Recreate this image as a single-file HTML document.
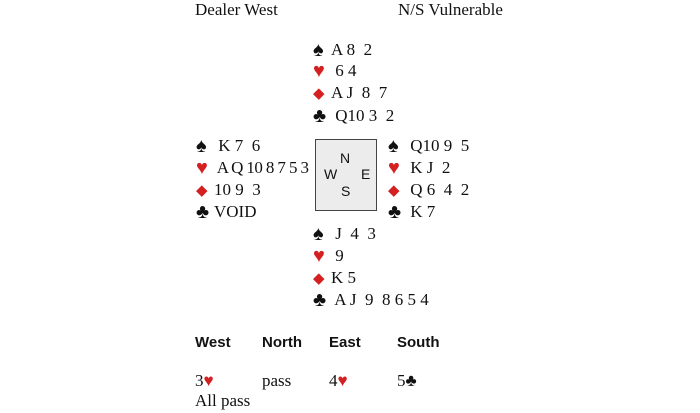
<!DOCTYPE html>
<html><head><style>
body{margin:0;width:700px;height:413px;background:#fff;position:relative;font-family:"Liberation Serif",serif;font-size:17px;color:#111;overflow:hidden}
.t{position:absolute;white-space:pre;line-height:20px}
.r{color:#d42020}
.s{display:inline-block;width:18px;font-size:20px;line-height:18px;vertical-align:-1px}
.d{font-size:15px;vertical-align:0}
.h{font-family:"Liberation Sans",sans-serif;font-weight:bold;font-size:15px}
.box{position:absolute;z-index:2;left:315px;top:139px;width:60px;height:70px;border:1.5px solid #444;background:#ececec;font-family:"Liberation Sans",sans-serif;font-size:14px}
.box span{position:absolute}
</style></head><body>
<div class="t" style="left:195px;top:0px">Dealer West</div>
<div class="t" style="left:398px;top:0px">N/S Vulnerable</div>

<div class="t" style="left:313px;top:40px"><span class="s">♠</span>A 8  2</div>
<div class="t" style="left:313px;top:61px"><span class="s r">♥</span> 6 4</div>
<div class="t" style="left:313px;top:83px"><span class="s d r">◆</span>A J  8  7</div>
<div class="t" style="left:313px;top:106px"><span class="s">♣</span> Q10 3  2</div>

<div class="t" style="left:196px;top:136px"><span class="s">♠</span> K 7  6</div>
<div class="t" style="left:196px;top:158px;letter-spacing:-0.6px"><span class="s r">♥</span> A Q 10 8 7 5 3</div>
<div class="t" style="left:196px;top:180px"><span class="s d r">◆</span>10 9  3</div>
<div class="t" style="left:196px;top:202px"><span class="s">♣</span>VOID</div>

<div class="box"><span style="left:24px;top:10px">N</span><span style="left:8px;top:26px">W</span><span style="left:45px;top:26px">E</span><span style="left:25px;top:43px">S</span></div>

<div class="t" style="left:388px;top:136px"><span class="s">♠</span> Q10 9  5</div>
<div class="t" style="left:388px;top:158px"><span class="s r">♥</span> K J  2</div>
<div class="t" style="left:388px;top:180px"><span class="s d r">◆</span> Q 6  4  2</div>
<div class="t" style="left:388px;top:202px"><span class="s">♣</span> K 7</div>

<div class="t" style="left:313px;top:224px"><span class="s">♠</span> J  4  3</div>
<div class="t" style="left:313px;top:246px"><span class="s r">♥</span> 9</div>
<div class="t" style="left:313px;top:268px"><span class="s d r">◆</span>K 5</div>
<div class="t" style="left:313px;top:290px"><span class="s">♣</span> A J  9  8 6 5 4</div>

<div class="t h" style="left:195px;top:333px">West</div>
<div class="t h" style="left:262px;top:333px">North</div>
<div class="t h" style="left:329px;top:333px">East</div>
<div class="t h" style="left:397px;top:333px">South</div>

<div class="t" style="left:195px;top:371px">3<span class="r">♥</span></div>
<div class="t" style="left:262px;top:371px">pass</div>
<div class="t" style="left:329px;top:371px">4<span class="r">♥</span></div>
<div class="t" style="left:397px;top:371px">5♣</div>
<div class="t" style="left:195px;top:391px">All pass</div>
</body></html>
